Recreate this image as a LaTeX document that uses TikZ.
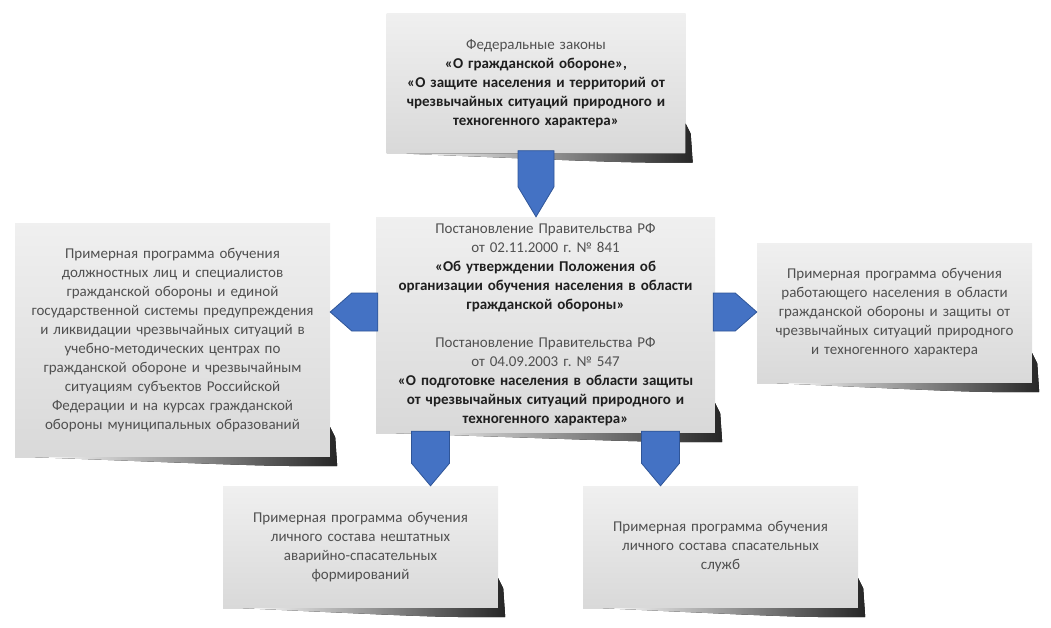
\documentclass[tikz,border=0pt]{standalone}
\usepackage{fontspec}
\setmainfont{Carlito}
\frenchspacing
\usetikzlibrary{calc}
\definecolor{arrowfill}{HTML}{4472C4}
\definecolor{arrowline}{HTML}{2F5597}
\definecolor{plaintext}{HTML}{505050}
\definecolor{boldtext}{HTML}{1F1F1F}
\begin{document}
\begin{tikzpicture}[x=1pt,y=-1pt]
	\tikzstyle{sheet}=[rectangle,top color=black!6,middle color=black!1,bottom color=black!15,text=plaintext,align=center,font=\fontsize{15}{19}\selectfont,inner sep=4pt]
	\tikzstyle{pointer}=[fill=arrowfill,draw=arrowline,line width=0.8pt,line join=miter]
	\tikzstyle{curl}=[left color=white,right color=black!85]
	\newcommand{\law}[1]{{\color{boldtext}\bfseries #1}}
	\useasboundingbox (0,0) rectangle (1051,627);
	\begin{scope}
	\node[sheet,text width=291pt,minimum height=140pt] (laws) at (536,83.5) {Федеральные законы\\ \law{«О гражданской обороне»,}\\ \law{«О защите населения и территорий от}\\ \law{чрезвычайных ситуаций природного и}\\ \law{техногенного характера»}};
	\node[sheet,text width=331pt,minimum height=216pt] (decree) at (545.5,325) {Постановление Правительства РФ\\ от 02.11.2000 г. № 841\\ \law{«Об утверждении Положения об}\\ \law{организации обучения населения в области}\\ \law{гражданской обороны»}\\[19pt] Постановление Правительства РФ\\ от 04.09.2003 г. № 547\\ \law{«О подготовке населения в области защиты}\\ \law{от чрезвычайных ситуаций природного и}\\ \law{техногенного характера»}};
	\node[sheet,text width=307pt,minimum height=234pt] (officials) at (172.5,340) {Примерная программа обучения\\ должностных лиц и специалистов\\ гражданской обороны и единой\\ государственной системы предупреждения\\ и ликвидации чрезвычайных ситуаций в\\ учебно-методических центрах по\\ гражданской обороне и чрезвычайным\\ ситуациям субъектов Российской\\ Федерации и на курсах гражданской\\ обороны муниципальных образований};
	\node[sheet,text width=267pt,minimum height=140pt] (workers) at (894.5,313) {Примерная программа обучения\\ работающего населения в области\\ гражданской обороны и защиты от\\ чрезвычайных ситуаций природного\\ и техногенного характера};
	\node[sheet,text width=267pt,minimum height=122pt] (nasf) at (360.5,547) {Примерная программа обучения\\ личного состава нештатных\\ аварийно-спасательных\\ формирований};
	\node[sheet,text width=267pt,minimum height=122pt] (services) at (720.5,547) {Примерная программа обучения\\ личного состава спасательных\\ служб};
	\end{scope}

	\foreach \n in {laws,decree,officials,workers,nasf,services}
		\fill[curl] ($(\n.south west)+(20,0)$) -- (\n.south east) -- ($(\n.south east)+(0,-30)$) -- ($(\n.south east)+(5,-20)$) -- ($(\n.south east)+(7,9)$) .. controls ($(\n.south east)+(-60,9)$) .. ($(\n.south west)+(20,0)$) -- cycle;

	\coordinate (da) at (laws.south |- decree.north);
	\coordinate (la) at ($(decree.west)+(0,-13)$);
	\coordinate (ra) at ($(decree.east)+(0,-13)$);
	\coordinate (ba) at ($(decree.south)+(-115,0)$);
	\coordinate (bb) at ($(decree.south)+(115,0)$);

	\draw[pointer] ($(laws.south)+(-18,-3)$) -- ($(laws.south)+(18,-3)$) -- ($(da)+(18,-30)$) -- (da) -- ($(da)+(-18,-30)$) -- cycle;
	\draw[pointer] ($(la)+(2,-19)$) -- ($(la)+(-24,-19)$) -- (officials.east |- la) -- ($(la)+(-24,19)$) -- ($(la)+(2,19)$) -- cycle;
	\draw[pointer] ($(ra)+(-2,-19)$) -- ($(ra)+(20,-19)$) -- (workers.west |- ra) -- ($(ra)+(20,19)$) -- ($(ra)+(-2,19)$) -- cycle;
	\draw[pointer] ($(ba)+(-19,-2)$) -- ($(ba)+(19,-2)$) -- ($(ba)+(19,30)$) -- (ba |- nasf.north) -- ($(ba)+(-19,30)$) -- cycle;
	\draw[pointer] ($(bb)+(-19,-2)$) -- ($(bb)+(19,-2)$) -- ($(bb)+(19,30)$) -- (bb |- services.north) -- ($(bb)+(-19,30)$) -- cycle;
\end{tikzpicture}
\end{document}
